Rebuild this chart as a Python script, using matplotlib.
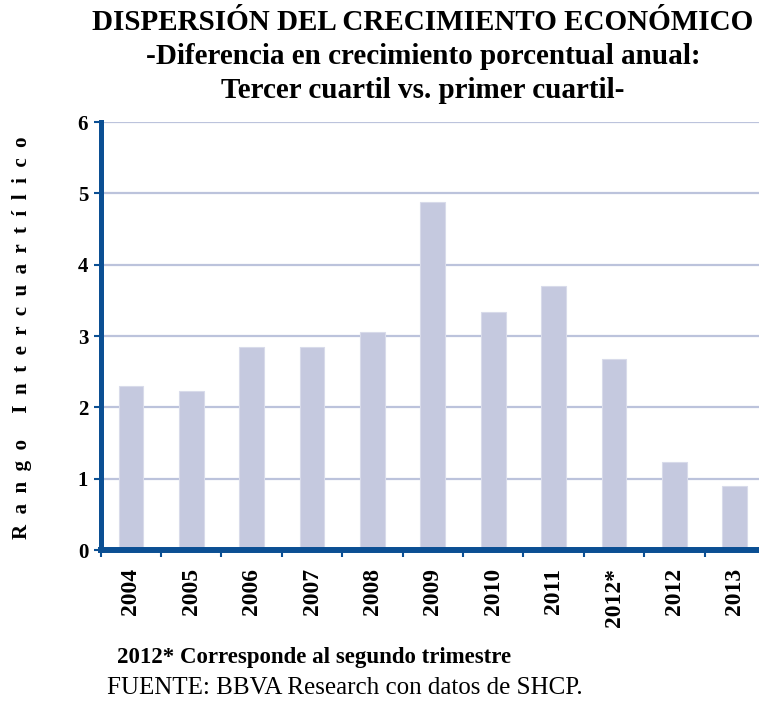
import matplotlib
matplotlib.use("Agg")
import matplotlib.pyplot as plt
import numpy as np

categories = ["2004", "2005", "2006", "2007", "2008", "2009", "2010", "2011", "2012*", "2012", "2013"]
values = [2.30, 2.23, 2.84, 2.84, 3.06, 4.88, 3.34, 3.70, 2.68, 1.23, 0.90]
yticks = [0, 1, 2, 3, 4, 5, 6]

title_lines = ["DISPERSIÓN DEL CRECIMIENTO ECONÓMICO",
               "-Diferencia en crecimiento porcentual anual:",
               "Tercer cuartil vs. primer cuartil-"]
ylabel = "R  a  n  g  o     I  n  t  e  r  c  u  a  r  t  í  l  i  c  o"
note = "2012* Corresponde al segundo trimestre"
source = "FUENTE: BBVA Research con datos de SHCP."

plt.rcParams['font.family'] = ['Liberation Serif', 'DejaVu Serif']

W, H = 759, 703
fig = plt.figure(figsize=(W / 100, H / 100), dpi=100)
left, right, top, bottom = 100.7, 759, 122, 550
ax = fig.add_axes([left / W, 1 - bottom / H, (right - left) / W, (bottom - top) / H])

blue = "#0B4F93"
grid_c = "#BCC3DC"
bar_c = "#C5C9DF"

x = np.arange(len(categories))
ax.bar(x, values, width=0.41, color=bar_c, edgecolor="#D8DBEA", linewidth=0.8, zorder=2)

ax.set_xlim(-0.5, len(categories) - 0.6)
ax.set_ylim(0, 6)
ax.set_yticks(yticks)
ax.set_yticklabels([str(v) for v in yticks], fontsize=15, fontweight="bold")
ax.yaxis.grid(True, color=grid_c, linewidth=1.6, zorder=1)
ax.set_axisbelow(True)

ax.set_xticks(x - 0.5, minor=False)
ax.set_xticklabels([])
ax.set_xticks(x, minor=True)
ax.set_xticklabels(categories, minor=True, rotation=90, fontsize=17, fontweight="bold")
ax.tick_params(axis="x", which="minor", length=0, pad=13)
ax.tick_params(axis="x", which="major", length=5, width=1.5, color=blue, direction="out")
ax.tick_params(axis="y", length=5, width=1.5, color=blue, direction="out", pad=4)

for s in ["top", "right"]:
    ax.spines[s].set_visible(False)
ax.spines["left"].set_color(blue)
ax.spines["left"].set_linewidth(3.6)
ax.spines["bottom"].set_color(blue)
ax.spines["bottom"].set_linewidth(4.3)
ax.spines["left"].set_zorder(3)
ax.spines["bottom"].set_zorder(3)

fig.text(22 / W, 1 - 338 / H, ylabel, rotation=90, ha="center", va="center",
         fontsize=15, fontweight="bold")

fig.text(423 / W, 1 - 23 / H, title_lines[0], ha="center", va="center", fontsize=21, fontweight="bold")
fig.text(423 / W, 1 - 57 / H, title_lines[1], ha="center", va="center", fontsize=21, fontweight="bold")
fig.text(423 / W, 1 - 90 / H, title_lines[2], ha="center", va="center", fontsize=21, fontweight="bold")

fig.text(117 / W, 1 - 657 / H, note, ha="left", va="center", fontsize=16.5, fontweight="bold")
fig.text(107 / W, 1 - 688 / H, source, ha="left", va="center", fontsize=18)

fig.savefig("out.png", dpi=100)
